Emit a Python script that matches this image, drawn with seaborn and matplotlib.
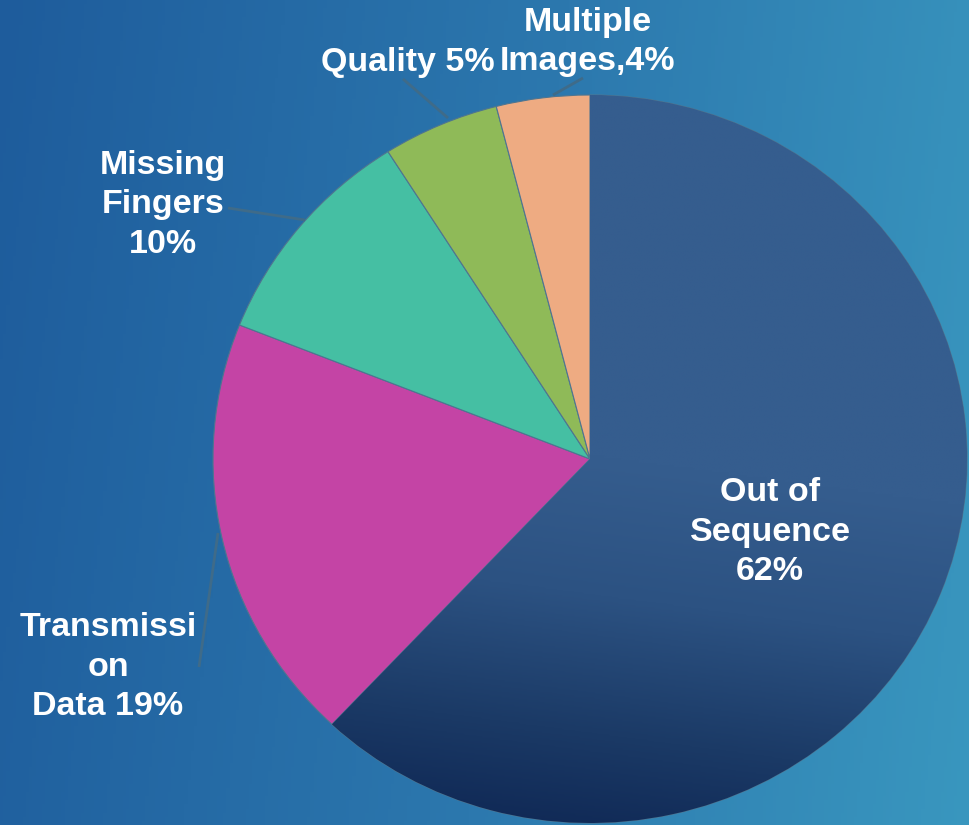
import numpy as np
import matplotlib
matplotlib.use("Agg")
import matplotlib.pyplot as plt
import seaborn as sns
from matplotlib.colors import LinearSegmentedColormap

# ---- data ----
categories = ["Out of Sequence", "Transmission Data", "Missing Fingers", "Quality", "Multiple Images"]
shares = [62, 19, 10, 5, 4]
label_texts = ["Out of\nSequence\n62%", "Transmissi\non\nData 19%", "Missing\nFingers\n10%",
               "Quality 5%", "Multiple\nImages,4%"]
colors = ["#345c8d", "#c444a5", "#45bfa3", "#8fba58", "#eeab82"]

# ---- layout (pixel space of the 970x825 canvas) ----
W, H = 970, 825
CX, CY, RX, RY = 590, 459, 377, 364
label_pos = [(770, 532), (108, 667), (163, 205), (408, 62), (588, 42)]
leaders = [None, [(218, 533), (199, 667)], [(228, 208), (305, 220)],
           [(403, 79), (448, 118)], [(583, 78), (553, 95)]]


def px(x, y):
    return ((x - CX) / RX, (CY - y) / RY)


sns.set_theme(style="white")
plt.rcParams['font.family'] = ['Liberation Sans', 'DejaVu Sans']

fig = plt.figure(figsize=(9.7, 8.25), dpi=100)
ax = fig.add_axes([0, 0, 1, 1])
x0, y1 = px(0, 0)
x1, y0 = px(W, H)

# background gradient
bg_cmap = LinearSegmentedColormap.from_list("bg", ["#1e5c9c", "#2c78ae", "#3b9bc1"])
gx = np.linspace(0, 1, 300)
gy = np.linspace(0, 1, 200)
GX, GY = np.meshgrid(gx, gy)
bg = 0.85 * GX + 0.15 * (1 - GY) * 0.6
ax.imshow(bg, extent=(x0, x1, y0, y1), origin="lower", cmap=bg_cmap, aspect="auto",
          zorder=0, vmin=0, vmax=1)

wedges, _ = ax.pie(shares, colors=colors, startangle=90, counterclock=False, radius=1,
                   center=(0, 0),
                   wedgeprops=dict(edgecolor="#4f7590", linewidth=0.8))
for w in wedges:
    w.set_zorder(2)

# gradient fill for the large slice
oos_cmap = LinearSegmentedColormap.from_list("oos", ["#0c2350", "#1b3a66", "#2c5282", "#355d8e"])
ux = np.linspace(-1, 1, 300)
uy = np.linspace(-1, 1, 300)
UX, UY = np.meshgrid(ux, uy)
t = np.clip((UY + 1.0) / 1.15 + 0.12 * (UX + 1), 0, 1)
img = ax.imshow(t, extent=(-1, 1, -1, 1), origin="lower", cmap=oos_cmap, aspect="auto",
                zorder=2.5, vmin=0, vmax=1)
img.set_clip_path(wedges[0])

# labels
for txt, (lx, ly) in zip(label_texts, label_pos):
    dx, dy = px(lx, ly)
    ax.text(dx, dy, txt, ha="center", va="center", color="white", fontsize=24.5,
            fontweight="bold", linespacing=1.35, zorder=5)

for seg in leaders:
    if seg is None:
        continue
    pts = [px(*p) for p in seg]
    ax.plot([p[0] for p in pts], [p[1] for p in pts], color="#3f6b89", lw=2, zorder=4,
            solid_capstyle="butt")

ax.set_xlim(x0, x1)
ax.set_ylim(y0, y1)
ax.set_aspect("auto")
ax.axis("off")
fig.savefig("out.png", dpi=100)
